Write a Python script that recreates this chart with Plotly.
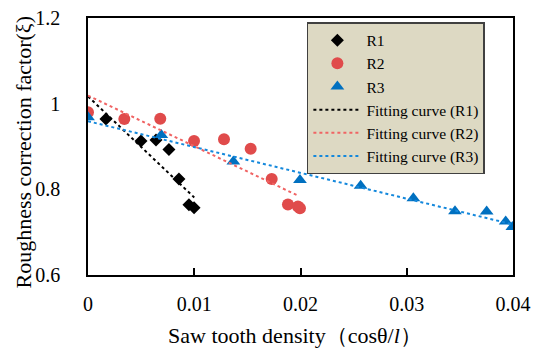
import plotly.graph_objects as go

# ---- data ----
r1_x = [0.00169, 0.00499, 0.0064, 0.00762, 0.00856, 0.0095, 0.00998]
r1_y = [0.964, 0.913, 0.915, 0.893, 0.824, 0.764, 0.757]

r2_x = [0.0, 0.00342, 0.0068, 0.00998, 0.0128, 0.01531, 0.01729, 0.01882, 0.01976, 0.01995]
r2_y = [0.980, 0.964, 0.965, 0.913, 0.917, 0.895, 0.824, 0.7645, 0.760, 0.756]

r3_x = [0.0, 0.0069, 0.01368, 0.01995, 0.02566, 0.03062, 0.03454, 0.03752, 0.03931, 0.03994]
r3_y = [0.968, 0.927, 0.865, 0.822, 0.8085, 0.779, 0.749, 0.748, 0.725, 0.712]

fit1_x = [0.0, 0.01]
fit1_y = [1.017, 0.781]
fit2_x = [0.0, 0.0197]
fit2_y = [1.019, 0.786]
fit3_x = [0.0, 0.04]
fit3_y = [0.959, 0.718]

x_ticks = [0, 0.01, 0.02, 0.03, 0.04]
x_tick_text = ["0", "0.01", "0.02", "0.03", "0.04"]
y_ticks = [0.6, 0.8, 1.0, 1.2]
y_tick_text = ["0.6", "0.8", "1", "1.2"]

x_title = "Saw tooth density（cosθ/<i>l</i>）"
y_title = "Roughness correction factor(ξ)"

FONT = "Liberation Serif"

fig = go.Figure()
fig.add_trace(go.Scatter(x=r1_x, y=r1_y, mode="markers", name="R1",
                         marker=dict(symbol="diamond", size=10, color="black")))
fig.add_trace(go.Scatter(x=r2_x, y=r2_y, mode="markers", name="R2",
                         marker=dict(symbol="circle", size=12, color="#E04B4B")))
fig.add_trace(go.Scatter(x=r3_x, y=r3_y, mode="markers", name="R3",
                         marker=dict(symbol="triangle-up", size=12, color="#0070C0")))
fig.add_trace(go.Scatter(x=fit1_x, y=fit1_y, mode="lines", name="Fitting curve (R1)",
                         line=dict(color="black", dash="dot", width=2)))
fig.add_trace(go.Scatter(x=fit2_x, y=fit2_y, mode="lines", name="Fitting curve (R2)",
                         line=dict(color="#F06464", dash="dot", width=2)))
fig.add_trace(go.Scatter(x=fit3_x, y=fit3_y, mode="lines", name="Fitting curve (R3)",
                         line=dict(color="#1488DC", dash="dot", width=2)))

fig.update_layout(
    width=550, height=364,
    margin=dict(l=80, r=45, t=10, b=97, autoexpand=False),
    paper_bgcolor="white", plot_bgcolor="white",
    font=dict(family=FONT, color="black", size=20),
    legend=dict(x=0.515, y=0.984, xanchor="left", yanchor="top",
                bgcolor="#DDD9C3", bordercolor="#404040", borderwidth=1.5,
                font=dict(family=FONT, size=15.5), tracegroupgap=0, itemwidth=48),
    showlegend=True,
    annotations=[
        dict(text=x_title, xref="paper", yref="paper", x=0.487, y=-0.2335,
             xanchor="center", yanchor="middle", showarrow=False,
             font=dict(family=FONT, size=22)),
        dict(text=y_title, xref="paper", yref="paper", x=-0.1506, y=0.4805,
             xanchor="center", yanchor="middle", showarrow=False, textangle=-90,
             font=dict(family=FONT, size=22)),
    ],
)
fig.update_xaxes(range=[0, 0.04], tickvals=x_ticks, ticktext=x_tick_text,
                 showgrid=False, zeroline=False, showline=True, linecolor="black",
                 linewidth=1.5, mirror=True, ticks="inside", ticklen=7,
                 tickcolor="black", tickwidth=1.5, ticklabelstandoff=10,
                 tickfont=dict(size=20), automargin=False, ticklabeloverflow="allow")
fig.update_yaxes(range=[0.6, 1.2], tickvals=y_ticks, ticktext=y_tick_text,
                 showgrid=False, zeroline=False, showline=True, linecolor="black",
                 linewidth=1.5, mirror=True, ticks="", ticklabelstandoff=22,
                 tickfont=dict(size=20), automargin=False, ticklabeloverflow="allow")

fig.write_html("out.html")
